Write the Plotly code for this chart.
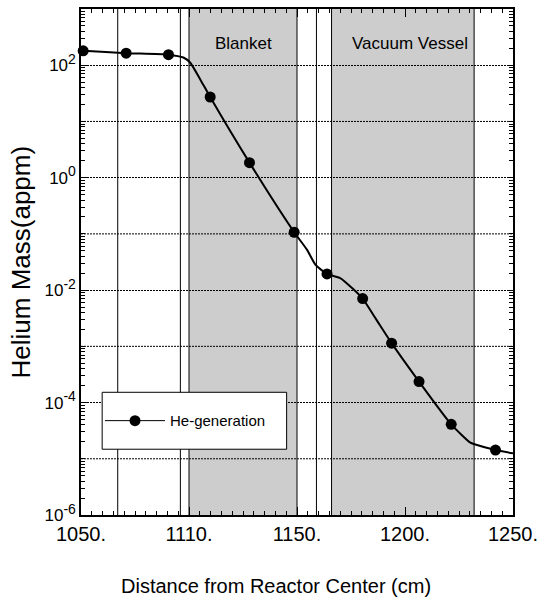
import plotly.graph_objects as go

# ---- data ----
curve_x = [1050, 1051, 1071, 1090.5, 1097.4, 1100.5, 1105.2, 1109.8, 1128.0, 1148.7,
           1154.6, 1158.5, 1163.9, 1170.0, 1175.5, 1180.4, 1186.3, 1193.8, 1206.5,
           1221.4, 1230.3, 1232.2, 1241.9, 1250]
curve_y = [182, 180, 164, 154, 137, 112, 56, 27.2, 1.85, 0.107,
           0.0525, 0.0284, 0.0194, 0.0164, 0.0109, 0.00706, 0.00318, 0.00114, 2.36e-4,
           4.1e-5, 1.93e-5, 1.81e-5, 1.43e-5, 1.25e-5]

marker_x = [1051, 1070.9, 1090.5, 1109.8, 1128.0, 1148.7, 1163.9, 1180.4, 1193.8,
            1206.5, 1221.4, 1241.9]
marker_y = [180, 164, 154, 27.2, 1.85, 0.107, 0.0194, 0.00706, 0.00114,
            2.36e-4, 4.1e-5, 1.43e-5]

series_name = "He-generation"

boundary_x = [1067, 1096, 1100, 1150, 1159, 1166, 1232]
shade_start = [1100, 1166]
shade_end = [1150, 1232]
region_names = ["Blanket", "Vacuum Vessel"]
region_name_x = [1125.2, 1202.3]

x_tick_vals = [1050, 1100, 1150, 1200, 1250]
x_tick_text = ["1050.", "1110.", "1150.", "1200.", "1250."]
y_labeled = [-6, -4, -2, 0, 2]
y_unlabeled = [-5, -3, -1, 1]

x_title = "Distance from Reactor Center (cm)"
y_title = "Helium Mass(appm)"

FONT = "Liberation Sans, Arial, sans-serif"
GRID_DASH = "2px,1px"

fig = go.Figure()

fig.add_trace(go.Scatter(
    x=curve_x, y=curve_y, mode="lines",
    line=dict(color="black", width=2, shape="spline", smoothing=0.6),
    showlegend=False, hoverinfo="skip"))

fig.add_trace(go.Scatter(
    x=marker_x, y=marker_y, mode="markers",
    marker=dict(color="black", size=11),
    showlegend=False, cliponaxis=False))

fig.add_trace(go.Scatter(
    x=[None], y=[None], mode="lines+markers", name=series_name,
    line=dict(color="black", width=1),
    marker=dict(color="black", size=11)))

shapes = []
for a, b in zip(shade_start, shade_end):
    shapes.append(dict(type="rect", xref="x", yref="paper", x0=a, x1=b, y0=0, y1=1,
                       fillcolor="#cdcdcd", line=dict(width=0), layer="below"))
for e in y_unlabeled:
    shapes.append(dict(type="line", xref="paper", yref="y", x0=0, x1=1,
                       y0=10.0 ** e, y1=10.0 ** e,
                       line=dict(color="black", width=1, dash=GRID_DASH), layer="below"))
for bx in boundary_x:
    shapes.append(dict(type="line", xref="x", yref="paper", x0=bx, x1=bx, y0=0, y1=1,
                       line=dict(color="black", width=1), layer="above"))
# legend box
shapes.append(dict(type="rect", xref="paper", yref="paper",
                   x0=0.049, x1=0.476, y0=0.130, y1=0.2425,
                   fillcolor="white", line=dict(color="black", width=1), layer="above"))

annotations = []
for name, nx in zip(region_names, region_name_x):
    annotations.append(dict(x=nx, y=0.932, xref="x", yref="paper", text=name,
                            showarrow=False, font=dict(size=17, color="black", family=FONT),
                            xanchor="center", yanchor="middle"))
annotations.append(dict(x=0.4514, y=-0.140, xref="paper", yref="paper", text=x_title,
                        showarrow=False, font=dict(size=20, color="black", family=FONT),
                        xanchor="center", yanchor="middle"))
annotations.append(dict(x=-0.1366, y=0.501, xref="paper", yref="paper", text=y_title,
                        showarrow=False, textangle=-90,
                        font=dict(size=26, color="black", family=FONT),
                        xanchor="center", yanchor="middle"))

y_tick_vals = [10.0 ** e for e in y_labeled]
y_tick_text = ['10<sup><span style="font-size:14px">%d</span></sup>' % e for e in y_labeled]
y_minor_vals = [k * 10.0 ** e for e in range(-6, 3) for k in range(2, 10)] + \
               [10.0 ** e for e in y_unlabeled]

fig.update_layout(
    width=544, height=602,
    margin=dict(l=81, r=31, t=9, b=87, autoexpand=False),
    paper_bgcolor="white", plot_bgcolor="white",
    font=dict(family=FONT, color="black"),
    shapes=shapes, annotations=annotations,
    legend=dict(x=0.044, y=0.186, xanchor="left", yanchor="middle",
                bgcolor="rgba(0,0,0,0)", borderwidth=0,
                font=dict(size=15, color="black", family=FONT), itemwidth=60),
    xaxis=dict(range=[1050, 1250], tickmode="array", tickvals=x_tick_vals,
               ticktext=x_tick_text, ticks="inside", ticklen=8, tickwidth=1,
               tickcolor="black", showgrid=False, zeroline=False, automargin=False,
               showline=True, linecolor="black", linewidth=1.5, mirror="ticks",
               tickfont=dict(size=20, color="black", family=FONT),
               minor=dict(dtick=5, ticks="inside", ticklen=4, tickcolor="black",
                          showgrid=False)),
    yaxis=dict(type="log", range=[-6, 3], tickmode="array", tickvals=y_tick_vals,
               ticktext=y_tick_text, ticks="inside", ticklen=6, tickwidth=1,
               tickcolor="black", showgrid=True, gridcolor="black", gridwidth=1,
               griddash=GRID_DASH, zeroline=False, automargin=False,
               showline=True, linecolor="black", linewidth=1.5, mirror="ticks",
               tickfont=dict(size=17, color="black", family=FONT),
               minor=dict(tickmode="array", tickvals=y_minor_vals, ticks="inside",
                          ticklen=4, tickcolor="black", showgrid=False)),
)

fig.write_html("out.html", config={"displayModeBar": False},
               post_script="document.body.style.margin='0px';")
